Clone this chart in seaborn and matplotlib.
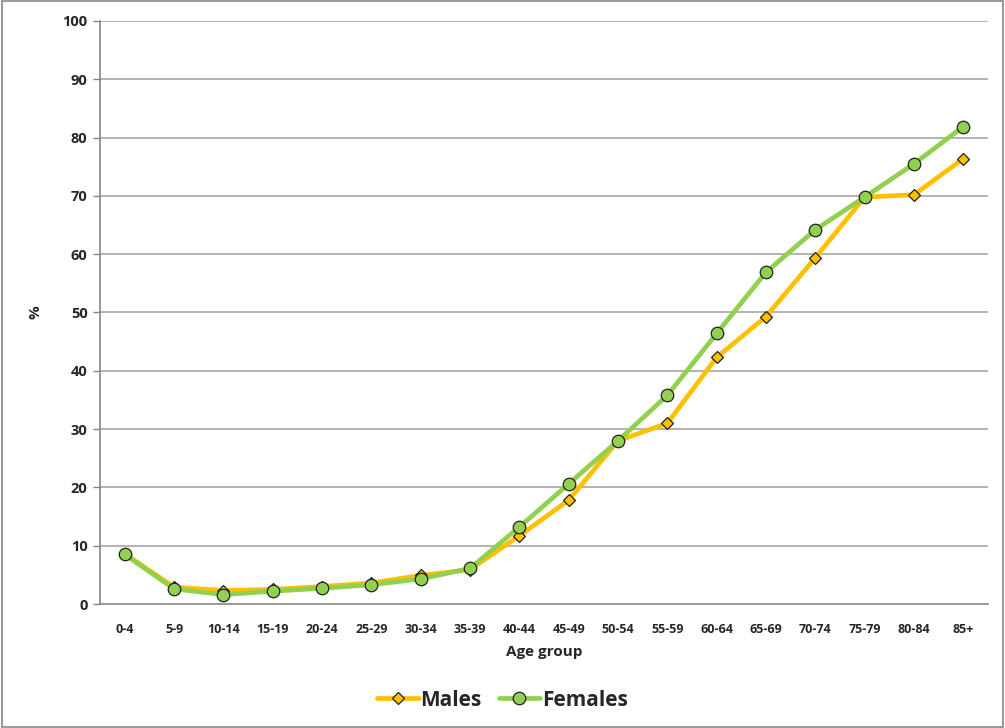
import matplotlib
matplotlib.use("Agg")
import matplotlib.pyplot as plt
import seaborn as sns
import pandas as pd
from matplotlib.patches import Rectangle

age_groups = ["0-4", "5-9", "10-14", "15-19", "20-24", "25-29", "30-34", "35-39",
              "40-44", "45-49", "50-54", "55-59", "60-64", "65-69", "70-74",
              "75-79", "80-84", "85+"]
males = [8.6, 2.9, 2.3, 2.5, 3.0, 3.6, 4.9, 5.9, 11.7, 17.8, 28.0, 31.0,
         42.3, 49.3, 59.4, 69.8, 70.2, 76.4]
females = [8.5, 2.6, 1.6, 2.2, 2.7, 3.3, 4.3, 6.1, 13.2, 20.6, 28.0, 35.8,
           46.4, 56.9, 64.2, 69.8, 75.5, 81.9]
yticks = list(range(0, 101, 10))

df = pd.DataFrame({"Age group": age_groups, "Males": males, "Females": females})
df["x"] = range(len(age_groups))

sns.set_theme(style="white")
plt.rcParams["font.family"] = ["Open Sans", "DejaVu Sans"]
plt.rcParams["font.weight"] = "bold"

fig = plt.figure(figsize=(10.05, 7.28), dpi=100)
ax = fig.add_axes([100 / 1005, (728 - 604) / 728, (988 - 100) / 1005, (604 - 21) / 728])

for y in yticks[1:]:
    ax.axhline(y, color="#a6a6a6", lw=1.2, zorder=0)

sns.lineplot(data=df, x="x", y="Males", ax=ax, color="#FFC000", lw=3.4,
             marker="D", markersize=6.5, markerfacecolor="#FFC000",
             markeredgecolor="#222222", markeredgewidth=0.9, label="Males", zorder=3)
sns.lineplot(data=df, x="x", y="Females", ax=ax, color="#92D050", lw=3.4,
             marker="o", markersize=9, markerfacecolor="#92D050",
             markeredgecolor="#222222", markeredgewidth=0.9, label="Females", zorder=4)

ax.set_xlim(-0.5, len(age_groups) - 0.5)
ax.set_ylim(0, 100)
ax.set_yticks(yticks)
ax.set_yticklabels([str(v) for v in yticks], fontsize=10.5, fontweight="bold")
ax.set_xticks(range(len(age_groups)))
ax.set_xticklabels(age_groups, fontsize=9, fontweight="bold")
ax.set_xticks([i - 0.5 for i in range(len(age_groups) + 1)], minor=True)
ax.tick_params(axis="x", which="major", length=0, pad=14)
ax.tick_params(axis="x", which="minor", length=5, color="#868686", width=1, direction="out")
ax.tick_params(axis="y", which="major", length=5, color="#868686", width=1, direction="out", pad=4, left=True)

for s in ["top", "right"]:
    ax.spines[s].set_visible(False)
for s in ["left", "bottom"]:
    ax.spines[s].set_color("#868686")
    ax.spines[s].set_linewidth(1.2)

ax.set_xlabel("Age group", fontsize=11, fontweight="bold", labelpad=6)
ax.set_ylabel("%", fontsize=11, fontweight="bold", labelpad=14)

handles, labels = ax.get_legend_handles_labels()
ax.legend(handles, labels, loc="center", bbox_to_anchor=(0.5, (728 - 700) / 728),
          bbox_transform=fig.transFigure, ncol=2, frameon=False,
          prop={"size": 15, "weight": "bold"}, handlelength=2.0,
          handletextpad=0.1, columnspacing=0.8)

fig.patches.append(Rectangle((0.0015, 0.002), 0.997, 0.996, transform=fig.transFigure,
                             fill=False, edgecolor="#868686", lw=1.2))

fig.savefig("out.png", dpi=100)
